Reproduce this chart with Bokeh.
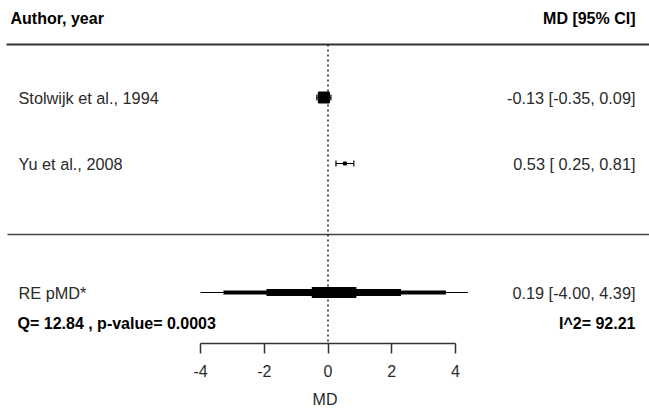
from bokeh.plotting import figure
from bokeh.models import Range1d, FixedTicker
from bokeh.core.properties import value
from bokeh.embed import file_html
from bokeh.resources import INLINE

# ---- data ----
authors = ["Stolwijk et al., 1994", "Yu et al., 2008"]
md = [-0.13, 0.53]
ci_lo = [-0.35, 0.25]
ci_hi = [0.09, 0.81]
re_label = "RE pMD*"
re_md = 0.19
re_lo = -4.00
re_hi = 4.39
# nested interval bands drawn on the pooled estimate (outer -> inner)
re_band_lo = [-4.00, -3.28, -1.93, -0.51]
re_band_hi = [4.39, 3.70, 2.29, 0.89]
Q = 12.84
p_value = 0.0003
I2 = 92.21
ticks = [-4, -2, 0, 2, 4]
axis_title = "MD"
header_left = "Author, year"
header_right = "MD [95% CI]"

# ---- layout helpers ----
W, H = 649, 411
FRAME_H = 343
SCALE = 31.875      # px per unit
ZERO = 327.5        # px position of 0


def sx(px):
    return (px - ZERO) / SCALE


FONT = value("Liberation Sans")
DARK = "#2a2a2a"

p = figure(width=W, height=H, output_backend="svg", toolbar_location=None,
           x_range=Range1d(sx(0), sx(W)), y_range=Range1d(FRAME_H, 0),
           min_border_left=0, min_border_right=0, min_border_top=0,
           min_border_bottom=H - FRAME_H, y_axis_location=None)
p.outline_line_color = None
p.grid.visible = False

# header
p.text(x=[sx(10)], y=[18], text=[header_left], text_font=FONT, text_font_size="16px",
       text_font_style="bold", text_color="black", text_baseline="middle", text_align="left")
p.text(x=[sx(635)], y=[18], text=[header_right], text_font=FONT, text_font_size="16px",
       text_font_style="bold", text_color="black", text_baseline="middle", text_align="right")
p.segment(x0=[sx(6)], y0=[44], x1=[sx(649)], y1=[44], line_color="#333333", line_width=2)

# separator
p.segment(x0=[sx(7)], y0=[234], x1=[sx(649)], y1=[234], line_color="#444444", line_width=1.5)

# reference line at 0
p.segment(x0=[0], y0=[44], x1=[0], y1=[FRAME_H], line_color="#222222", line_width=1.5,
          line_dash="2 3")

# studies
row_y = [97, 163]
sizes = [11, 3]
for i in range(len(authors)):
    y = row_y[i]
    p.text(x=[sx(18)], y=[y], text=[authors[i]], text_font=FONT, text_font_size="16.3px",
           text_color=DARK, text_baseline="middle", text_align="left")
    lab = f"{md[i]:.2f} [{ci_lo[i]:5.2f}, {ci_hi[i]:.2f}]"
    p.text(x=[sx(635)], y=[y], text=[lab], text_font=FONT, text_font_size="16.3px",
           text_color=DARK, text_baseline="middle", text_align="right")
    p.segment(x0=[ci_lo[i]], y0=[y], x1=[ci_hi[i]], y1=[y], line_color="black", line_width=1.2)
    p.segment(x0=[ci_lo[i], ci_hi[i]], y0=[y - 3, y - 3], x1=[ci_lo[i], ci_hi[i]],
              y1=[y + 3, y + 3], line_color="black", line_width=1.2)
    p.scatter(x=[md[i]], y=[y], marker="square", size=sizes[i], fill_color="black",
              line_color="black")

# pooled estimate
ry = 292
band_h = [1, 4, 7, 11]
for lo, hi, h in zip(re_band_lo, re_band_hi, band_h):
    p.hbar(y=[ry], left=[lo], right=[hi], height=h, fill_color="black", line_color=None)
p.text(x=[sx(18)], y=[ry], text=[re_label], text_font=FONT, text_font_size="16.3px",
       text_color=DARK, text_baseline="middle", text_align="left")
p.text(x=[sx(635)], y=[ry], text=[f"{re_md:.2f} [{re_lo:.2f}, {re_hi:.2f}]"], text_font=FONT,
       text_font_size="16.3px", text_color=DARK, text_baseline="middle", text_align="right")

# heterogeneity
p.text(x=[sx(17)], y=[323], text=[f"Q= {Q:.2f} , p-value= {p_value:.4f}"], text_font=FONT,
       text_font_size="16px", text_font_style="bold", text_color="black",
       text_baseline="middle", text_align="left")
p.text(x=[sx(635)], y=[323], text=[f"I^2= {I2:.2f}"], text_font=FONT,
       text_font_size="16px", text_font_style="bold", text_color="black",
       text_baseline="middle", text_align="right")

# axis
ax = p.xaxis[0]
ax.bounds = (ticks[0], ticks[-1])
ax.ticker = FixedTicker(ticks=ticks)
ax.major_label_overrides = {t: str(t) for t in ticks}
ax.minor_tick_line_color = None
ax.major_tick_in = 0
ax.major_tick_out = 10
ax.axis_line_color = "#333333"
ax.axis_line_width = 1.5
ax.major_tick_line_color = "#333333"
ax.major_tick_line_width = 1.5
ax.major_label_text_font = "Liberation Sans"
ax.major_label_text_font_size = "16px"
ax.major_label_text_color = DARK
ax.major_label_standoff = 11
ax.axis_label = axis_title
ax.axis_label_text_font = "Liberation Sans"
ax.axis_label_text_font_size = "16px"
ax.axis_label_text_font_style = "normal"
ax.axis_label_text_color = DARK
ax.axis_label_standoff = 11

open("out.html", "w").write(file_html(p, INLINE))
